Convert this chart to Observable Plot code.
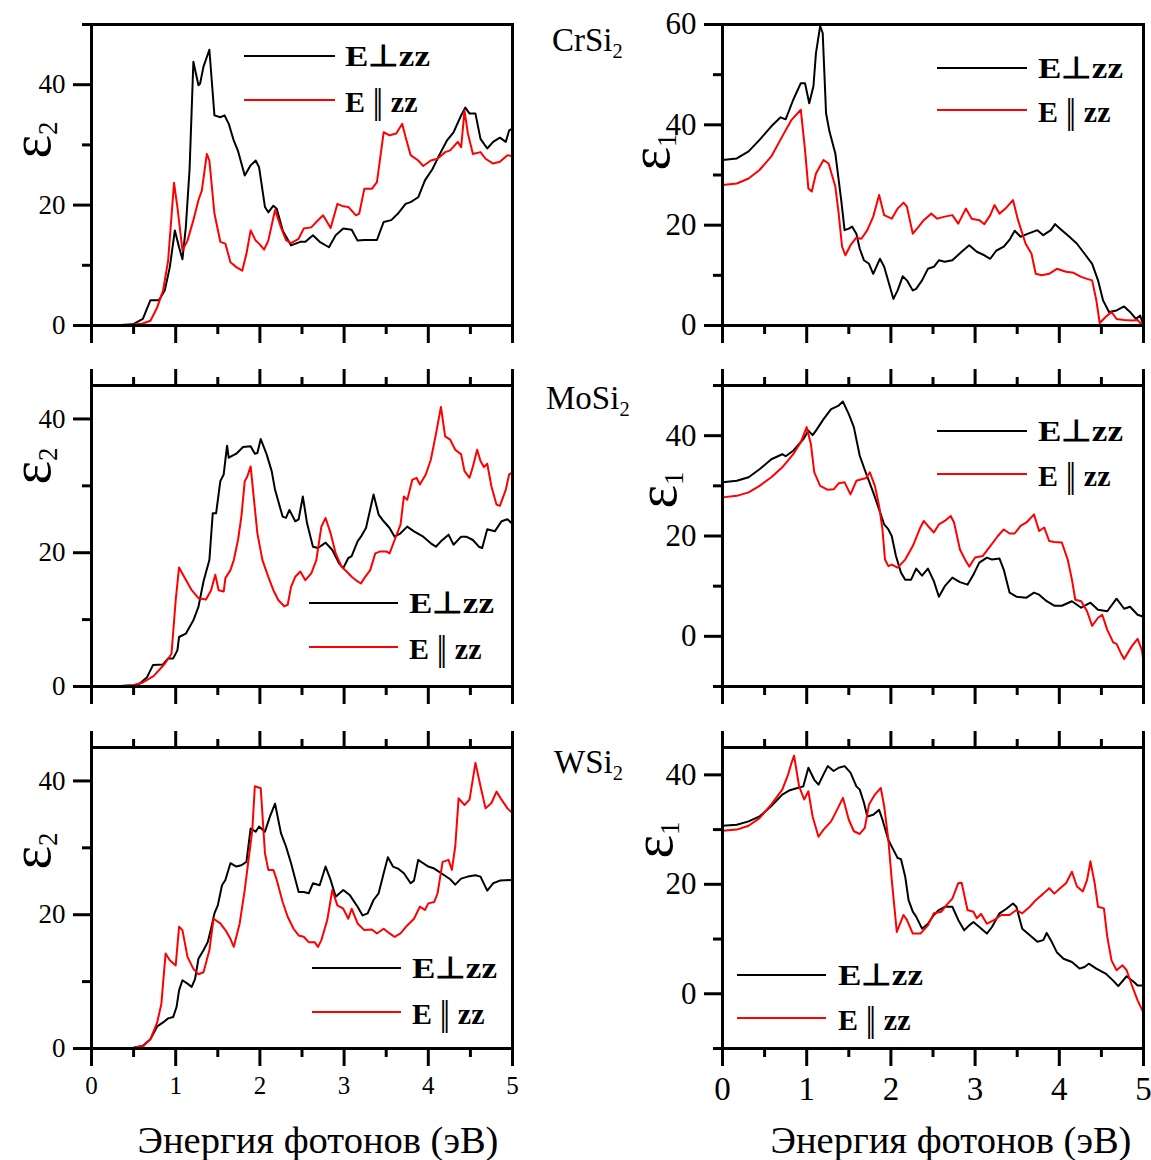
<!DOCTYPE html>
<html><head><meta charset="utf-8">
<script src="https://cdn.jsdelivr.net/npm/d3@7"></script>
<script src="https://cdn.jsdelivr.net/npm/@observablehq/plot@0.6"></script>
<style>
body{margin:0;background:#fff}
#c{position:relative;width:1151px;height:1160px;overflow:hidden;font-family:"Liberation Serif","Times New Roman",serif;color:#000}
.abs{position:absolute;white-space:nowrap;line-height:1}
.sub{font-size:0.62em;position:relative;top:0.36em}
.leg{font-weight:bold;font-size:30px}
.leg .bar{font-weight:normal;font-size:1.2em;letter-spacing:-0.1em;margin-right:0.1em;position:relative;top:0.04em}
.mat{font-size:33px}
.eps{font-size:56px;transform:translate(-50%,-50%) rotate(-90deg)}
.eps .sub{font-size:0.48em;top:0.25em}
.xt{font-size:38.5px;transform:translateX(-50%)}
</style>
</head><body><div id="c"></div>
<script>
// ---------- data: photon energy (eV) vs dielectric function ----------
const xMajor = [0, 1, 2, 3, 4, 5];
const xMinor = [0.5, 1.5, 2.5, 3.5, 4.5];

const crsi2_e2_perp = [[0,0],[0.3,0.05],[0.49,0.2],[0.61,1.1],[0.70,4.2],[0.80,4.2],[0.87,5.8],[0.93,9.7],[0.99,15.8],[1.04,13],[1.08,11],[1.12,16.3],[1.165,26],[1.21,43.8],[1.27,39.9],[1.29,40.2],[1.33,43],[1.40,45.8],[1.46,34.9],[1.53,34.6],[1.58,34.9],[1.63,33.5],[1.69,30.7],[1.74,29],[1.82,24.9],[1.89,26.6],[1.95,27.4],[1.99,26.3],[2.06,19.7],[2.10,18.8],[2.16,19.9],[2.20,19.4],[2.27,15.8],[2.37,13.3],[2.48,13.9],[2.54,13.9],[2.63,15],[2.71,13.9],[2.82,13],[2.90,15],[2.99,16.1],[3.09,15.9],[3.16,14.1],[3.24,14.2],[3.39,14.2],[3.47,17.2],[3.56,17.5],[3.64,18.6],[3.73,20.2],[3.79,20.5],[3.88,21.3],[3.96,24.1],[4.05,26],[4.13,28.3],[4.22,30.7],[4.30,32.1],[4.39,34.9],[4.44,36.2],[4.49,35.2],[4.56,35.2],[4.62,31],[4.70,29.4],[4.77,30.5],[4.85,31.2],[4.92,30.5],[4.96,32.4],[5,32.7]];
const crsi2_e2_par = [[0,0],[0.4,0.05],[0.6,0.3],[0.70,0.8],[0.78,3],[0.85,5.8],[0.91,10.8],[0.94,16.3],[0.98,23.7],[1.02,19.7],[1.08,12.5],[1.14,14.1],[1.21,17.5],[1.27,20.8],[1.31,22.4],[1.37,28.5],[1.40,27.4],[1.46,18.6],[1.53,13.9],[1.59,13.6],[1.65,10.5],[1.72,9.7],[1.79,9.1],[1.84,11.9],[1.89,15.8],[1.95,14.1],[1.99,13.6],[2.05,12.6],[2.10,14.1],[2.18,19.2],[2.25,16.3],[2.31,14.2],[2.37,13.7],[2.46,14.4],[2.52,16.1],[2.61,16.3],[2.67,17.2],[2.75,18.3],[2.84,16.2],[2.92,20.2],[2.99,19.8],[3.05,19.7],[3.14,18.3],[3.18,18.6],[3.24,22.7],[3.33,22.7],[3.39,23.8],[3.47,32.1],[3.54,31.6],[3.62,31.9],[3.69,33.5],[3.73,31.3],[3.79,28.3],[3.88,27.4],[3.94,26.5],[4.03,27.4],[4.11,27.7],[4.20,28.8],[4.26,29.1],[4.35,30.5],[4.39,29.6],[4.43,35.7],[4.47,31.9],[4.53,28.5],[4.62,28.8],[4.68,27.7],[4.77,26.9],[4.85,27.2],[4.94,28.3],[5,28.1]];
const crsi2_e1_perp = [[0,33],[0.17,33.3],[0.31,34.7],[0.44,37],[0.58,39.7],[0.69,41.5],[0.75,41.1],[0.84,45],[0.93,48.3],[0.98,48.3],[1.03,44.3],[1.08,47.7],[1.11,54.3],[1.16,59.7],[1.19,58.3],[1.23,42.3],[1.27,38.7],[1.34,34.3],[1.41,25],[1.45,19],[1.50,19.3],[1.54,19.7],[1.59,18.3],[1.63,15.3],[1.68,13],[1.74,12.3],[1.79,10.3],[1.87,13.3],[1.92,11.7],[2.03,5.3],[2.08,7],[2.14,9.8],[2.19,9],[2.26,7],[2.30,7.3],[2.37,9],[2.44,11.3],[2.51,11.7],[2.57,13],[2.64,12.7],[2.73,13],[2.84,14.7],[2.93,16],[3.02,14.7],[3.11,14],[3.18,13.3],[3.25,14.9],[3.34,15.7],[3.41,17.1],[3.47,18.9],[3.54,17.7],[3.63,18.3],[3.74,19],[3.81,18],[3.90,19],[3.95,20.2],[4.03,19],[4.12,17.7],[4.21,16.3],[4.30,14.3],[4.39,12.3],[4.46,9],[4.52,5],[4.59,2.7],[4.68,3],[4.77,3.8],[4.84,2.7],[4.91,1.3],[4.96,2],[5,0]];
const crsi2_e1_par = [[0,28],[0.17,28.3],[0.31,29.3],[0.44,31],[0.58,33.7],[0.71,37.7],[0.82,41],[0.93,43],[0.98,35],[1.02,27.3],[1.06,26.7],[1.11,30.3],[1.20,33],[1.26,32.3],[1.34,27.7],[1.38,22.3],[1.42,15.7],[1.46,14],[1.52,16],[1.59,17.5],[1.65,17.3],[1.72,19],[1.79,21.7],[1.86,26],[1.92,22],[2.01,21.3],[2.08,23.3],[2.15,24.5],[2.19,23.7],[2.26,18.3],[2.33,19.7],[2.39,21],[2.48,22.3],[2.55,21.3],[2.64,21.7],[2.73,22],[2.80,20.3],[2.89,23.3],[2.96,21.3],[3.05,21],[3.11,20.2],[3.18,22],[3.23,24],[3.29,22.3],[3.36,23.3],[3.45,25],[3.51,21],[3.60,16.3],[3.67,14.3],[3.72,10.3],[3.79,10],[3.88,10.3],[3.97,11.3],[4.08,10.7],[4.17,10.5],[4.26,9.7],[4.33,9.3],[4.39,9],[4.44,5],[4.48,0.5],[4.55,1.7],[4.62,2.7],[4.68,1.3],[4.77,1.1],[4.87,1],[4.93,1.1],[5,-0.2]];

const mosi2_e2_perp = [[0,0],[0.3,0.05],[0.5,0.2],[0.57,0.4],[0.66,1.4],[0.73,3.2],[0.85,3.3],[0.91,4.2],[0.97,4.2],[1.02,5.4],[1.04,7.4],[1.12,7.9],[1.21,9.9],[1.27,11.9],[1.33,15.7],[1.40,18.9],[1.44,25.9],[1.48,25.9],[1.53,30.7],[1.57,31.7],[1.61,36],[1.63,34.2],[1.72,34.8],[1.80,35.8],[1.89,35.9],[1.94,34.8],[1.97,34.9],[2.01,37],[2.08,34.7],[2.14,32.2],[2.18,29.4],[2.27,25.4],[2.31,25.2],[2.35,26.4],[2.42,24.7],[2.46,25],[2.51,28.4],[2.56,24.4],[2.63,20.9],[2.69,20.7],[2.78,21.5],[2.86,20.4],[2.94,18.4],[2.99,17.7],[3.05,19.2],[3.09,19.5],[3.16,21.7],[3.20,22.4],[3.26,23.7],[3.35,28.7],[3.41,25.7],[3.47,24.7],[3.54,23.7],[3.60,22.4],[3.67,22.9],[3.75,23.9],[3.83,23.2],[3.94,22.4],[4.03,21.4],[4.09,20.9],[4.15,21.7],[4.24,22.7],[4.30,21.2],[4.39,22.4],[4.45,22.4],[4.53,21.9],[4.60,20.9],[4.64,20.7],[4.70,23.5],[4.79,23.2],[4.87,24.7],[4.94,25],[5,24.3]];
const mosi2_e2_par = [[0,0],[0.3,0.05],[0.5,0.2],[0.61,0.6],[0.74,1.6],[0.87,3.4],[0.95,4.9],[1.0,12.9],[1.04,17.8],[1.10,16.4],[1.19,14.4],[1.27,13.2],[1.36,13],[1.42,14.4],[1.47,16.7],[1.51,14.4],[1.57,14.2],[1.59,16.2],[1.65,17.4],[1.69,18.9],[1.74,21.9],[1.78,25.4],[1.82,30.7],[1.85,31.4],[1.89,32.9],[1.93,27.9],[1.97,22.9],[2.03,18.9],[2.10,16.4],[2.16,14.4],[2.22,12.9],[2.29,12],[2.33,12.2],[2.37,14.9],[2.42,16.4],[2.48,17.2],[2.54,15.9],[2.61,16.9],[2.67,18.9],[2.73,23.9],[2.78,25.2],[2.84,22.9],[2.90,19.9],[2.97,17.9],[3.03,17.2],[3.09,16.4],[3.16,15.7],[3.20,15.4],[3.24,16.2],[3.31,17.4],[3.37,19.9],[3.43,20.2],[3.50,20.2],[3.54,19.9],[3.60,21.9],[3.67,24.2],[3.71,28.4],[3.75,27.9],[3.81,30.9],[3.86,31.2],[3.90,30.2],[3.97,31.7],[4.03,33.9],[4.09,37.7],[4.15,41.8],[4.20,37.4],[4.26,36.9],[4.32,35.4],[4.39,34.7],[4.43,32.2],[4.49,31.2],[4.53,32.9],[4.58,35.4],[4.62,33.7],[4.66,32.8],[4.70,33.3],[4.75,29.9],[4.81,27.2],[4.85,27],[4.92,29.4],[4.96,31.7],[5,32]];
const mosi2_e1_perp = [[0,30.7],[0.17,31],[0.31,31.7],[0.44,33.3],[0.58,35.3],[0.71,36.3],[0.75,35.9],[0.84,37],[0.96,39.3],[1.02,41],[1.07,40.1],[1.11,41],[1.20,43.3],[1.29,45.3],[1.38,46],[1.43,46.8],[1.50,44.3],[1.56,41.7],[1.63,36],[1.70,32.7],[1.79,28.7],[1.86,25.3],[1.92,22.3],[1.97,21.3],[2.01,20],[2.06,16],[2.12,12.7],[2.17,11.3],[2.24,11.3],[2.30,13.5],[2.37,12.1],[2.44,13.5],[2.51,11],[2.57,7.9],[2.64,10],[2.73,11.7],[2.82,10.8],[2.91,10.3],[2.98,12.3],[3.05,14.7],[3.14,15.7],[3.20,15.3],[3.29,15.5],[3.34,13.3],[3.41,8.7],[3.49,7.9],[3.61,7.7],[3.70,8.7],[3.76,8.3],[3.85,7],[3.94,6.1],[4.03,6.1],[4.15,7],[4.26,5.7],[4.37,6.7],[4.46,5.3],[4.57,5],[4.68,7.5],[4.77,5.5],[4.84,5.9],[4.93,4.3],[5,3.9]];
const mosi2_e1_par = [[0,27.7],[0.17,28],[0.31,28.7],[0.44,30],[0.58,31.7],[0.71,33.7],[0.84,36.3],[0.93,38.7],[1.0,41.7],[1.05,38.3],[1.09,32.7],[1.16,30],[1.25,29.2],[1.32,29.3],[1.38,30.5],[1.45,30.7],[1.52,28.3],[1.59,31],[1.65,31.3],[1.70,31.5],[1.75,32.7],[1.81,30],[1.86,26],[1.90,21.3],[1.93,15.3],[1.97,14],[2.01,14.3],[2.08,13.7],[2.17,15.3],[2.26,18],[2.35,21.7],[2.39,23],[2.44,22],[2.51,20.7],[2.57,22.3],[2.64,23],[2.71,24],[2.75,22.7],[2.82,17.3],[2.89,15],[2.93,13.9],[3.0,15.7],[3.09,16],[3.18,18],[3.27,20],[3.34,21.3],[3.41,20.5],[3.47,20.5],[3.54,22],[3.61,22.7],[3.70,24.3],[3.76,21],[3.82,21.7],[3.88,19],[3.94,18.8],[4.03,18.7],[4.10,15.3],[4.15,11.3],[4.19,7.3],[4.26,7],[4.33,5],[4.39,2.1],[4.46,3.7],[4.51,4.3],[4.57,1.3],[4.64,-1.2],[4.68,-1.5],[4.73,-3.3],[4.77,-4.5],[4.86,-2],[4.93,-0.5],[4.98,-2.7],[5,-5]];

const wsi2_e2_perp = [[0,0],[0.3,0.05],[0.5,0.1],[0.61,0.4],[0.70,1.4],[0.78,3.3],[0.85,3.9],[0.91,4.5],[0.97,4.7],[1.01,6.2],[1.04,8.7],[1.08,10.2],[1.14,9.7],[1.19,9.2],[1.23,10.4],[1.27,13.4],[1.33,14.7],[1.38,15.9],[1.42,17.9],[1.46,20.2],[1.50,21.4],[1.55,24.4],[1.59,25.2],[1.65,27.7],[1.72,27.2],[1.78,27.4],[1.84,27.9],[1.89,32.9],[1.95,32.4],[1.99,33.2],[2.06,32.4],[2.12,34.7],[2.18,36.6],[2.25,32.2],[2.31,30.2],[2.37,27.7],[2.46,23.4],[2.52,23.4],[2.58,23.2],[2.63,24.7],[2.71,24.4],[2.78,27.2],[2.84,25.2],[2.90,22.7],[2.99,23.7],[3.07,22.9],[3.16,21.2],[3.22,19.9],[3.28,20.2],[3.35,22.2],[3.41,23.2],[3.47,26.2],[3.52,28.6],[3.58,27.2],[3.64,26.9],[3.71,26.2],[3.79,24.7],[3.83,25.1],[3.88,28.2],[3.94,27.7],[4.0,27.2],[4.07,26.9],[4.13,26.4],[4.19,25.9],[4.26,25.3],[4.32,24.5],[4.39,25.4],[4.47,25.7],[4.56,25.9],[4.62,25.7],[4.70,23.6],[4.77,24.7],[4.85,25.1],[5,25.2]];
const wsi2_e2_par = [[0,0],[0.3,0.05],[0.5,0.1],[0.62,0.4],[0.70,1.4],[0.78,3.9],[0.83,6.7],[0.88,14.2],[0.93,13.2],[1.0,12.4],[1.04,18.2],[1.08,17.7],[1.14,13.7],[1.21,11.9],[1.27,11.1],[1.33,11.4],[1.40,14.7],[1.45,19.4],[1.53,18.7],[1.59,17.7],[1.65,16.4],[1.69,15.2],[1.76,18.7],[1.82,23.7],[1.86,27.7],[1.91,32.7],[1.94,39.2],[2.01,38.9],[2.06,29.2],[2.10,26.7],[2.16,26.7],[2.20,25.2],[2.27,21.9],[2.33,19.7],[2.40,17.9],[2.46,16.9],[2.52,16.7],[2.58,15.9],[2.65,15.9],[2.69,15.2],[2.73,16.2],[2.80,19.2],[2.86,23.7],[2.92,21.4],[2.99,20.9],[3.05,19.4],[3.09,20.9],[3.16,18.7],[3.24,17.7],[3.33,17.8],[3.39,17.2],[3.47,17.9],[3.54,17.2],[3.60,16.7],[3.67,17.2],[3.75,18.4],[3.83,19.4],[3.90,21.2],[3.96,20.7],[4.0,21.7],[4.07,21.9],[4.11,23.2],[4.17,27.9],[4.24,28.2],[4.28,26.7],[4.32,30.2],[4.36,37.4],[4.43,36.4],[4.49,37.2],[4.56,42.7],[4.62,39.2],[4.68,35.9],[4.75,36.7],[4.81,38.4],[4.87,37.2],[4.94,35.9],[5,35.2]];
const wsi2_e1_perp = [[0,30.7],[0.17,30.9],[0.31,31.5],[0.44,32.4],[0.58,34.3],[0.71,36.4],[0.80,37.2],[0.89,37.6],[0.96,37.9],[1.02,41.3],[1.09,39.1],[1.14,38.2],[1.20,40.1],[1.25,41.6],[1.32,40.7],[1.38,41.3],[1.45,41.6],[1.52,40.4],[1.59,37.9],[1.63,37.3],[1.68,34.9],[1.72,32.4],[1.79,32.7],[1.86,33.6],[1.90,31.8],[1.97,28.1],[2.03,26.3],[2.08,24.8],[2.12,24.6],[2.17,21.4],[2.21,17.1],[2.26,15],[2.30,14.1],[2.37,11.9],[2.44,12.8],[2.51,14.4],[2.57,15.3],[2.64,15.9],[2.73,15.9],[2.80,13.5],[2.87,11.6],[2.93,12.5],[2.98,13.1],[3.05,12.2],[3.14,11],[3.20,12.2],[3.29,14.7],[3.36,15.4],[3.45,16.5],[3.49,15.9],[3.56,11.9],[3.65,10.7],[3.74,9.5],[3.81,9.8],[3.85,11.1],[3.90,9.8],[3.97,7.6],[4.05,6.4],[4.15,5.8],[4.24,4.6],[4.30,4.9],[4.35,5.5],[4.44,4.6],[4.55,3.7],[4.64,2.4],[4.70,1.4],[4.80,3.2],[4.89,2.1],[4.93,1.5],[5,1.5]];
const wsi2_e1_par = [[0,29.8],[0.17,30],[0.31,30.7],[0.44,32.1],[0.58,34.6],[0.71,37.3],[0.78,40.1],[0.82,42.2],[0.85,43.5],[0.91,37.9],[0.97,35.5],[1.02,37],[1.07,32.4],[1.14,28.7],[1.20,30],[1.29,31.5],[1.36,33.6],[1.43,35.8],[1.50,31.8],[1.56,29.7],[1.63,29.2],[1.69,30.3],[1.74,34.6],[1.81,36.4],[1.88,37.6],[1.92,34.3],[1.97,28.1],[2.01,20.8],[2.07,11.3],[2.15,14.4],[2.19,13.5],[2.26,11],[2.35,11],[2.44,12.5],[2.51,14.7],[2.60,15],[2.66,16.2],[2.73,17.4],[2.80,20.2],[2.84,20.3],[2.91,15.3],[2.98,15],[3.02,13.8],[3.07,14.6],[3.14,12.8],[3.23,13.5],[3.31,14.4],[3.41,14.4],[3.49,15.3],[3.56,14.7],[3.65,15.9],[3.72,17.1],[3.81,18.3],[3.88,19.3],[3.94,18.3],[4.01,19.3],[4.08,20.2],[4.15,22.3],[4.21,19.6],[4.28,18.7],[4.33,20.8],[4.37,24.2],[4.42,20.2],[4.46,15.9],[4.53,15.6],[4.57,10.4],[4.62,6.1],[4.68,4.3],[4.75,5.2],[4.80,4.3],[4.87,1.2],[4.93,-1.2],[5,-3.5]];

const materials = ["CrSi", "MoSi", "WSi"];
const legendTexts = ["E\u22A5zz", "E <span class=\"bar\">||</span> zz"];
const xTitle = "Энергия фотонов (эВ)";

// ---------- layout ----------
const C = document.getElementById("c");
const FONT = '"Liberation Serif","Times New Roman",serif';
const panels = [
  {perp: crsi2_e2_perp, par: crsi2_e2_par, left: 91, top: 24, yDomain: [0, 50], yMajor: [0, 20, 40], yMinor: [10, 30, 50], topTicks: false, xLabels: false, col: 0, eps: "2", epsAt: [31, 140], leg: {x1: 244, x2: 335, y1: 56, y2: 100, tx: 345}},
  {perp: crsi2_e1_perp, par: crsi2_e1_par, left: 722, top: 24, yDomain: [0, 60], yMajor: [0, 20, 40, 60], yMinor: [10, 30, 50], topTicks: false, xLabels: false, col: 1, eps: "1", epsAt: [650, 152], leg: {x1: 937, x2: 1027, y1: 68, y2: 110, tx: 1038}},
  {perp: mosi2_e2_perp, par: mosi2_e2_par, left: 91, top: 385, yDomain: [0, 45], yMajor: [0, 20, 40], yMinor: [10, 30], topTicks: true, xLabels: false, col: 0, eps: "2", epsAt: [31, 466], leg: {x1: 309, x2: 398, y1: 603, y2: 647, tx: 409}},
  {perp: mosi2_e1_perp, par: mosi2_e1_par, left: 722, top: 385, yDomain: [-10, 50], yMajor: [0, 20, 40], yMinor: [-10, 10, 30, 50], topTicks: true, xLabels: false, col: 1, eps: "1", epsAt: [657, 490], leg: {x1: 937, x2: 1027, y1: 431, y2: 474, tx: 1038}},
  {perp: wsi2_e2_perp, par: wsi2_e2_par, left: 91, top: 747, yDomain: [0, 45], yMajor: [0, 20, 40], yMinor: [10, 30], topTicks: true, xLabels: true, col: 0, eps: "2", epsAt: [31, 851], leg: {x1: 312, x2: 401, y1: 968, y2: 1012, tx: 412}},
  {perp: wsi2_e1_perp, par: wsi2_e1_par, left: 722, top: 747, yDomain: [-10, 45], yMajor: [0, 20, 40], yMinor: [-10, 10, 30], topTicks: true, xLabels: true, col: 1, eps: "1", epsAt: [653, 840], leg: {x1: 737, x2: 826, y1: 975, y2: 1018, tx: 838}}
];
const matPos = [[552, 24], [546, 382], [554, 746]];
const titlePos = [[318, 1121], [951, 1121]];

function addDiv(cls, html, x, y, extra) {
  const d = document.createElement("div");
  d.className = "abs " + cls;
  d.innerHTML = html;
  d.style.left = x + "px";
  d.style.top = y + "px";
  if (extra) Object.assign(d.style, extra);
  C.appendChild(d);
  return d;
}

const W = 421, H = 301;
for (const p of panels) {
  const right = p.col === 1;
  const mL = 110, mR = 20, mT = 30, mB = p.xLabels ? 80 : 30;
  const yFont = right ? 31 : 27, xFont = right ? 33 : 25;
  const marks = [
    Plot.line(p.perp, {x: d => d[0], y: d => d[1], stroke: "#000", strokeWidth: 2}),
    Plot.line(p.par, {x: d => d[0], y: d => d[1], stroke: "#ff0000", strokeWidth: 2}),
    Plot.axisX({anchor: "bottom", ticks: xMajor, tickSize: 18, stroke: "#000", strokeWidth: 3, fill: p.xLabels ? "#000" : "none", fontSize: xFont, tickPadding: 10, tickFormat: d => String(d), label: null}),
    Plot.axisX({anchor: "bottom", ticks: xMinor, tickSize: 9, stroke: "#000", strokeWidth: 3, fill: "none", label: null}),
    Plot.axisY({anchor: "left", ticks: p.yMajor, tickSize: 18, stroke: "#000", strokeWidth: 3, fill: "#000", fontSize: yFont, tickPadding: 8, tickFormat: d => String(d), label: null}),
    Plot.axisY({anchor: "left", ticks: p.yMinor, tickSize: 9, stroke: "#000", strokeWidth: 3, fill: "none", label: null}),
    Plot.frame({stroke: "#000", strokeWidth: 3})
  ];
  if (p.topTicks) {
    marks.push(Plot.axisX({anchor: "top", ticks: xMajor, tickSize: 17, stroke: "#000", strokeWidth: 3, fill: "none", label: null}));
    marks.push(Plot.axisX({anchor: "top", ticks: xMinor, tickSize: 9, stroke: "#000", strokeWidth: 3, fill: "none", label: null}));
  }
  const svg = Plot.plot({
    width: W + mL + mR, height: H + mT + mB,
    marginLeft: mL, marginRight: mR, marginTop: mT, marginBottom: mB,
    x: {domain: [0, 5]}, y: {domain: p.yDomain},
    style: {background: "transparent", overflow: "visible", color: "#000"},
    marks
  });
  svg.style.position = "absolute";
  svg.style.left = (p.left - mL) + "px";
  svg.style.top = (p.top - mT) + "px";
  svg.style.maxWidth = "none";
  svg.style.fontFamily = FONT;
  svg.setAttribute("font-family", FONT);
  d3.select(svg).selectAll("g").filter(function () { return this.hasAttribute("font-family"); }).attr("font-family", FONT);
  d3.select(svg).selectAll("text").attr("font-family", FONT).style("font-family", FONT);
  C.appendChild(svg);

  // y-axis label (rotated epsilon)
  addDiv("eps", "\u03B5<span class=\"sub\">" + p.eps + "</span>", p.epsAt[0], p.epsAt[1]);

  // legend
  const L = p.leg;
  addDiv("", "", L.x1, L.y1 - 1, {width: (L.x2 - L.x1) + "px", height: "2px", background: "#000"});
  addDiv("", "", L.x1, L.y2 - 1, {width: (L.x2 - L.x1) + "px", height: "2px", background: "#ff0000"});
  addDiv("leg", legendTexts[0], L.tx, L.y1, {transform: "translateY(-50%) scaleX(1.17)", transformOrigin: "0 50%"});
  addDiv("leg", legendTexts[1], L.tx, L.y2, {transform: "translateY(-50%)"});
}

materials.forEach((m, i) => addDiv("mat", m + "<span class=\"sub\">2</span>", matPos[i][0], matPos[i][1]));
titlePos.forEach(t => addDiv("xt", xTitle, t[0], t[1]));
</script>
</body></html>
